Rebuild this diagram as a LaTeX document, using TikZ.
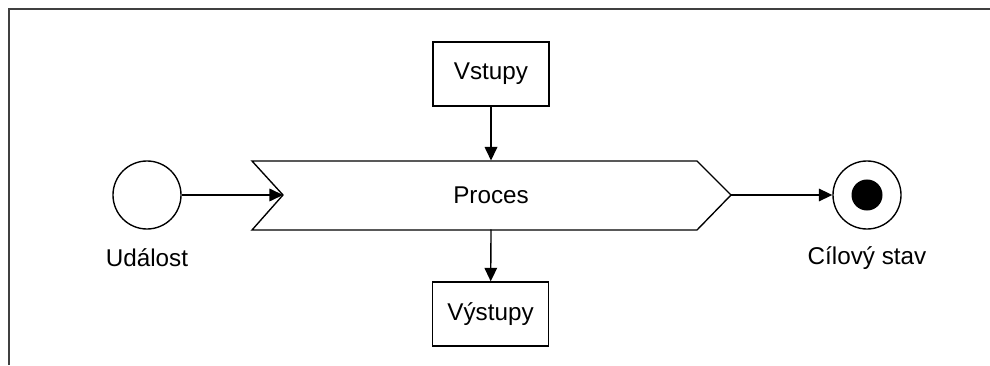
\documentclass[tikz,border=0pt]{standalone}
\usepackage{fontspec}
\setmainfont{Liberation Sans}
\usetikzlibrary{arrows.meta}
\begin{document}
\begin{tikzpicture}[
        font=\fontsize{23}{28}\selectfont,
        line width=1.3pt,
        >={Triangle[length=0.45cm,width=0.42cm]},
        box/.style={draw, minimum width=3.867cm, minimum height=2.133cm, inner sep=0pt},
        state/.style={draw, circle, minimum size=2.267cm, inner sep=0pt}
    ]
        \useasboundingbox (0,0) rectangle (33,12.167);

        % Frame
        \draw[line width=1.8pt, black!75] (0.3,0) -- (0.3,11.867) -- (33,11.867);

        % Process chevron
        \draw (8.4,6.8) -- (23.233,6.8) -- (24.367,5.667) -- (23.233,4.5)
            -- (8.4,4.5) -- (9.433,5.667) -- cycle;
        \node[minimum height=2.3cm, inner sep=0pt, outer sep=0pt] (proc) at (16.367,5.667) {Proces};
        \coordinate (notch) at (9.433,5.667);
        \coordinate (tip) at (24.367,5.667);

        % Start event
        \node[state] (event) at (4.9,5.667) {};
        \node (eventlbl) at (4.9,3.567) {Událost};

        % Goal state
        \node[state] (goal) at (28.9,5.667) {};
        \fill (goal) circle (0.517);
        \node (goallbl) at (28.9,3.567) {Cílový stav};

        % Inputs and outputs
        \node[box] (inputs) at (16.367,9.7) {Vstupy};
        \node[box] (outputs) at (16.35,1.7) {Výstupy};

        % Connectors
        \draw[->] (event) -- (notch);
        \draw[->] (tip) -- (goal);
        \draw[->] (inputs) -- (proc.north);
        \draw[->] (proc.south) -- (outputs);
    \end{tikzpicture}
\end{document}
